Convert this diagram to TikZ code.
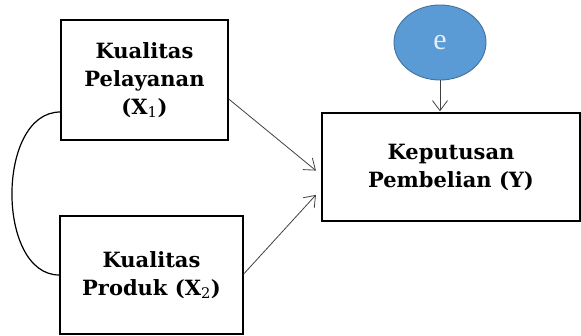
\documentclass[tikz,border=0pt]{standalone}
\usepackage{fontspec}
\setmainfont{DejaVu Serif}
\newfontfamily\efont{Liberation Serif}
\usetikzlibrary{arrows.meta,shapes.geometric}
\definecolor{efill}{HTML}{5B9BD5}
\definecolor{edraw}{HTML}{41719C}
\definecolor{etext}{HTML}{E4EEF8}
\definecolor{arrowgray}{HTML}{404040}
\tikzset{
  varbox/.style={draw=black, line width=1.4pt, fill=white, align=center,
    font=\fontsize{21}{28}\selectfont\bfseries, inner sep=0pt},
  errnode/.style={ellipse, draw=edraw, line width=0.9pt, fill=efill,
    minimum width=92pt, minimum height=75pt, inner sep=0pt,
    font=\efont\fontsize{30}{30}\selectfont, text=etext},
  pathline/.style={draw=arrowgray, line width=0.8pt,
    -{Straight Barb[length=10pt,width=15pt,line width=0.8pt]}},
  corrline/.style={draw=black, line width=1.2pt}
}
\newcommand{\subnum}[1]{\textsubscript{\mdseries #1}}
\begin{document}
\begin{tikzpicture}[x=1pt,y=-1pt]
\useasboundingbox (0,0) rectangle (581,336);
\node[varbox, minimum width=167pt, minimum height=120pt] (x1) at (144.5,80)
  {Kualitas\\Pelayanan\\(X\subnum{1})};
\node[varbox, minimum width=183pt, minimum height=118pt] (x2) at (151.5,275)
  {Kualitas\\Produk (X\subnum{2})};
\node[varbox, minimum width=258pt, minimum height=108pt] (y) at (451,167)
  {Keputusan\\Pembelian (Y)};
\node[errnode] (e) at (440,42.5) {e};
\draw[pathline, shorten >=1pt] (e.south) -- (e.south |- y.north);
\draw[pathline, shorten >=7pt] ([yshift=-19pt]x1.east) -- ([yshift=-8pt]y.west);
\draw[pathline, shorten >=8pt] ([yshift=1pt]x2.east) -- ([yshift=-22pt]y.west);
\draw[corrline] ([yshift=-32pt]x1.west) .. controls (-4,112) and (-4,275) .. ([yshift=0pt]x2.west);
\end{tikzpicture}
\end{document}
